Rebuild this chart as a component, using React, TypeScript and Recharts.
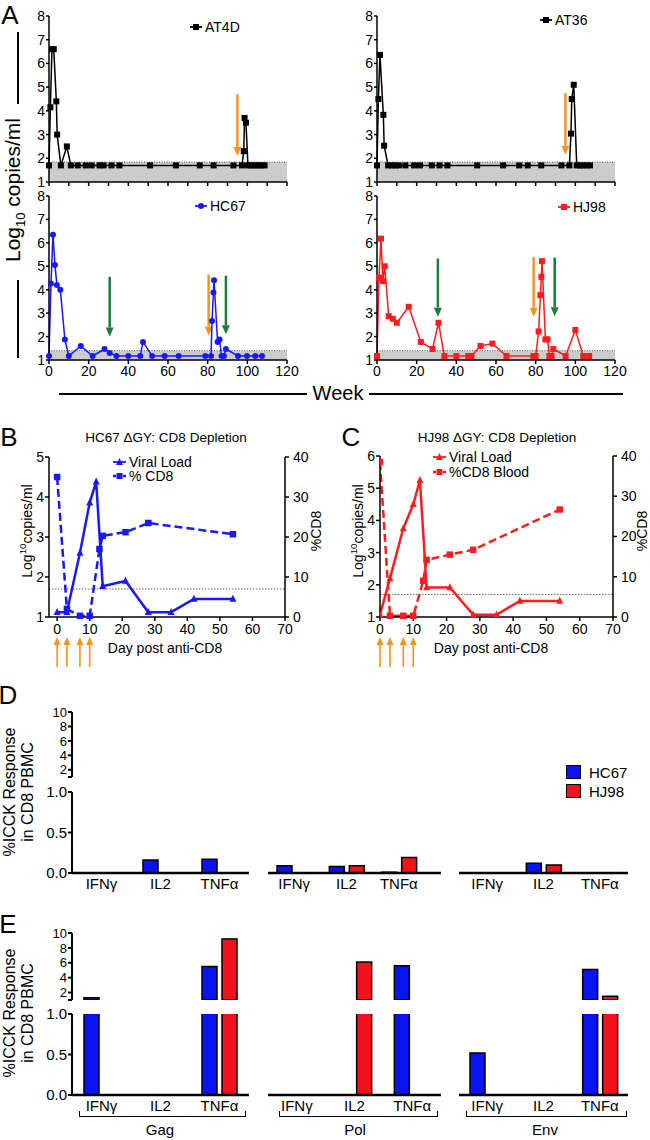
import React from 'react';
import {
  LineChart,
  Line,
  BarChart,
  Bar,
  XAxis,
  YAxis,
  ReferenceArea,
  ReferenceLine,
} from 'recharts';

const FONT = '"Liberation Sans", Arial, Helvetica, sans-serif';
const BLACK = '#000000';
const BLUE = '#1818ff';
const RED = '#ff1c1c';
const BAR_BLUE = '#0a14f0';
const BAR_RED = '#f2121a';
const ORANGE = '#f7941d';
const GREEN = '#1c7a3b';
const BAND = '#cccccc';

// ---- Panel A: log10 copies/ml by week ----
const weekTicks = [0, 20, 40, 60, 80, 100, 120];
const weekMinorTicks = [0, 10, 20, 30, 40, 50, 60, 70, 80, 90, 100, 110, 120];
const logTicks = [1, 2, 3, 4, 5, 6, 7, 8];

const at4dWeek = [0, 0.7, 1.5, 2.4, 3.7, 4.1, 6, 9, 11, 14.5, 18.5, 21.5, 25.5, 27.5, 31.5, 35.5, 51, 64, 76, 83, 93, 97.3, 98.2, 98.6, 99.3, 100.3, 102, 103.7, 105.4, 107, 108.7];
const at4dLog = [
  1.7, 4.15, 6.6, 6.6, 4.4, 3.0, 1.7, 2.5, 1.7,
  1.7, 1.7, 1.7, 1.7, 1.7, 1.7, 1.7, 1.7, 1.7, 1.7, 1.7, 1.7, 1.7,
  2.3, 3.7, 3.5,
  1.7, 1.7, 1.7, 1.7, 1.7, 1.7,
];

const at36Week = [0, 0.7, 1.5, 3.2, 3.6, 5.6, 7.6, 9.3, 11, 14.3, 18.7, 21.7, 27.6, 31.5, 35.5, 50.5, 63.6, 71.7, 76, 82.8, 93, 97, 97.8, 98.2, 99.2, 100.7, 102.4, 104, 105.7, 107.4];
const at36Log = [
  1.7, 4.5, 6.36, 3.83, 2.53,
  1.7, 1.7, 1.7, 1.7, 1.7, 1.7, 1.7, 1.7, 1.7, 1.7, 1.7, 1.7, 1.7, 1.7, 1.7, 1.7, 1.7,
  3.04, 4.5, 5.1,
  1.7, 1.7, 1.7, 1.7, 1.7,
];

const hc67Week = [0, 1, 2, 3, 4, 5.7, 8, 10, 16, 22, 28, 30.6, 34, 40, 46, 47.4, 52, 58.3, 65.4, 78.8, 81.7, 82.2, 82.9, 83.2, 85, 86, 87, 88.2, 89.2, 95.3, 99.8, 104, 107.4];
const hc67Log = [
  1.17, 4.27, 6.35, 5.05, 4.2, 4.0, 1.88, 1.17,
  1.6, 1.17, 1.47, 1.3, 1.17, 1.17, 1.17, 1.77, 1.17, 1.17, 1.17, 1.17, 1.17,
  2.66, 3.88, 4.4, 1.77, 1.88, 1.17, 1.17, 1.47,
  1.17, 1.17, 1.17, 1.17,
];

const hj98Week = [0, 1, 2, 3, 3.9, 5.9, 8, 10, 16, 22.1, 28, 31, 34, 40, 46, 47.6, 52.2, 58.2, 65.3, 78.9, 80, 81.5, 82.4, 82.9, 83.2, 84.9, 86, 86.9, 88, 88.9, 95.1, 100, 104, 107];
const hj98Log = [
  1.17, 4.52, 6.18, 4.37, 5.0, 2.87, 2.76, 2.59,
  3.27, 1.77, 1.47, 2.59, 1.17, 1.17, 1.17, 1.17, 1.6, 1.7, 1.17, 1.17, 1.17,
  2.22, 3.77, 4.55, 5.22, 1.88, 1.88, 1.17, 1.17, 1.47,
  1.17, 2.28, 1.17, 1.17,
];

// detection limits (top of grey band)
const atLimit = 1.84;
const hLimit = 1.4;

// arrows: week, start value, tip value
const at4dCd8Arrows = [{ x: 95, top: 4.7, tip: 2.1 }];
const at36Cd8Arrows = [{ x: 95, top: 4.75, tip: 2.15 }];
const hc67Cd8Arrows = [{ x: 80.5, top: 4.65, tip: 2.05 }];
const hc67OtherArrows = [{ x: 30.6, top: 4.55, tip: 2.0 }, { x: 89.2, top: 4.6, tip: 2.1 }];
const hj98Cd8Arrows = [{ x: 79, top: 5.4, tip: 2.85 }];
const hj98OtherArrows = [{ x: 30.7, top: 5.33, tip: 2.85 }, { x: 89.6, top: 5.37, tip: 2.87 }];

// ---- Panels B / C: CD8 depletion ----
const dayTicks = [0, 10, 20, 30, 40, 50, 60, 70];
const hc67LogTicks = [1, 2, 3, 4, 5];
const hj98LogTicks = [1, 2, 3, 4, 5, 6];
const pctTicks = [0, 10, 20, 30, 40];
const vlDays = [0, 3, 7, 10, 12, 14, 21, 28, 35, 42, 54];
const hc67Vl = [1.12, 1.12, 2.6, 3.86, 4.38, 1.77, 1.9, 1.12, 1.12, 1.45, 1.45];
const hj98Vl = [1.07, 2.2, 3.75, 4.5, 5.25, 1.92, 1.92, 1.07, 1.07, 1.5, 1.5];
const cd8Days = [0, 3, 7, 10, 13, 14, 21, 28, 54];
const hc67Cd8 = [35, 2, 0.3, 0.3, 17, 20.3, 21.2, 23.5, 20.7];
const hj98Cd8 = [38.5, 0.3, 0.3, 0.3, 9, 14.2, 15.5, 16.7, 26.7];
const antiCd8Days = [0, 3, 7, 10];
const vlLimit = 1.7;

// ---- Panels D / E: %ICCK response ----
const cytokines = ['IFNγ', 'IL2', 'TNFα'];
const upperTicks = [1, 2, 4, 6, 8, 10];
const lowerTicks = [0, 0.5, 1];

const dGagHC67 = [0, 0.16, 0.17];
const dGagHJ98 = [0, 0, 0];
const dPolHC67 = [0.09, 0.08, 0.01];
const dPolHJ98 = [0, 0.09, 0.19];
const dEnvHC67 = [0, 0.12, 0];
const dEnvHJ98 = [0, 0.1, 0];

const eGagHC67 = [1.3, 0, 5.5];
const eGagHJ98 = [0, 0, 9.2];
const ePolHC67 = [0, 0, 5.6];
const ePolHJ98 = [0, 6.1, 0];
const eEnvHC67 = [0.52, 0, 5.1];
const eEnvHJ98 = [0, 0, 1.5];

const TICK = { fontSize: 14, fill: BLACK, fontFamily: FONT };
const TICK15 = { fontSize: 15, fill: BLACK, fontFamily: FONT };
const TICK13 = { fontSize: 13, fill: BLACK, fontFamily: FONT };
const AXIS = { stroke: BLACK, strokeWidth: 1.5 };
const AXIS2 = { stroke: BLACK, strokeWidth: 2 };

const toRows = (xs: number[], vs: number[], key = 'w') => xs.map((x, i) => ({ [key]: x, v: vs[i] }));

// custom markers
const squareDot = (color: string, s: number) => (p: any) =>
  p.cx == null ? <g key={`sq-${p.index}`} /> : (
    <rect key={`sq-${p.index}`} x={p.cx - s / 2} y={p.cy - s / 2} width={s} height={s} fill={color} />
  );
const circleDot = (color: string, r: number) => (p: any) =>
  p.cx == null ? <g key={`ci-${p.index}`} /> : <circle key={`ci-${p.index}`} cx={p.cx} cy={p.cy} r={r} fill={color} />;
const triangleDot = (color: string, s: number) => (p: any) =>
  p.cx == null ? <g key={`tr-${p.index}`} /> : (
    <polygon
      key={`tr-${p.index}`}
      points={`${p.cx},${p.cy - s * 0.6} ${p.cx - s / 2},${p.cy + s * 0.4} ${p.cx + s / 2},${p.cy + s * 0.4}`}
      fill={color}
    />
  );

// upper (broken-axis) bars only show when the value passes the break at 1
const upperBar = (key: string, color: string) => (p: any) => {
  if (!p.payload || !(p.payload[key] > 1) || !(p.height > 0)) return <g />;
  return <rect x={p.x} y={p.y} width={p.width} height={p.height} fill={color} stroke={BLACK} strokeWidth={1.5} />;
};

// vertical arrow drawn from the first segment point to the second one (tip)
const arrowShape = (color: string, width: number, head: number, half: number) => (p: any) => {
  const { x1, y1, x2, y2 } = p;
  const dir = y2 > y1 ? 1 : -1;
  const base = y2 - dir * head;
  return (
    <g>
      <line x1={x1} y1={y1} x2={x2} y2={base} stroke={color} strokeWidth={width} />
      <polygon points={`${x2 - half},${base} ${x2 + half},${base} ${x2},${y2}`} fill={color} />
    </g>
  );
};

const Txt = ({ x, y, size, rotate, children, lh }: any) => (
  <div
    style={{
      position: 'absolute',
      left: x,
      top: y,
      transform: `translate(-50%, -50%)${rotate ? ' rotate(-90deg)' : ''}`,
      fontSize: size,
      lineHeight: lh || 1.15,
      whiteSpace: 'nowrap',
      textAlign: 'center',
    }}
  >
    {children}
  </div>
);

const Rule = ({ x, y, w, h }: any) => (
  <div style={{ position: 'absolute', left: x, top: y, width: w, height: h, background: BLACK }} />
);

const SeriesKey = ({ x, y, color, shape, dashed, label, size = 14, markW = 12 }: any) => (
  <div style={{ position: 'absolute', left: x, top: y - 9, height: 18, display: 'flex', alignItems: 'center', fontSize: size, lineHeight: '18px' }}>
    <svg width={markW} height={10} style={{ display: 'block' }}>
      <line x1={0} y1={5} x2={markW} y2={5} stroke={color} strokeWidth={dashed ? 2.5 : 1.8} strokeDasharray={dashed ? '3 2' : undefined} />
      {shape === 'square' && <rect x={markW / 2 - 3} y={2} width={6} height={6} fill={color} />}
      {shape === 'circle' && <circle cx={markW / 2} cy={5} r={3} fill={color} />}
      {shape === 'triangle' && <polygon points={`${markW / 2},1 ${markW / 2 - 3.5},8 ${markW / 2 + 3.5},8`} fill={color} />}
    </svg>
    <span style={{ marginLeft: 3 }}>{label}</span>
  </div>
);

type Arrow = { x: number; top: number; tip: number };

function WeekChart({ left, top, rows, limit, color, marker, cd8Arrows, otherArrows, showLabels }: {
  left: number; top: number; rows: any[]; limit: number; color: string; marker: any;
  cd8Arrows: Arrow[]; otherArrows: Arrow[]; showLabels: boolean;
}) {
  const height = showLabels ? 200 : 190;
  return (
    <div style={{ position: 'absolute', left, top }}>
      <LineChart width={289} height={height} data={rows} margin={{ top: 10, right: 16, left: 5, bottom: 2 }}>
        <ReferenceArea y1={1} y2={limit} fill={BAND} fillOpacity={1} stroke="none" />
        <ReferenceLine y={limit} stroke="#555" strokeWidth={1} strokeDasharray="1 1.5" />
        <XAxis
          type="number"
          dataKey="w"
          domain={[0, 120]}
          ticks={showLabels ? weekTicks : weekMinorTicks}
          interval={0}
          tickFormatter={showLabels ? (v: number) => String(v) : () => ''}
          height={showLabels ? 24 : 12}
          tickSize={4}
          tickMargin={2}
          axisLine={AXIS}
          tickLine={AXIS}
          tick={TICK}
        />
        <YAxis
          type="number"
          domain={[1, 8]}
          ticks={logTicks}
          interval={0}
          width={30}
          tickSize={3}
          tickMargin={1}
          axisLine={AXIS}
          tickLine={AXIS}
          tick={TICK}
        />
        {cd8Arrows.map((a, i) => (
          <ReferenceLine key={`o${i}`} segment={[{ x: a.x, y: a.top }, { x: a.x, y: a.tip }]} shape={arrowShape(ORANGE, 2.5, 9, 4)} />
        ))}
        {otherArrows.map((a, i) => (
          <ReferenceLine key={`g${i}`} segment={[{ x: a.x, y: a.top }, { x: a.x, y: a.tip }]} shape={arrowShape(GREEN, 2.5, 9, 4)} />
        ))}
        <Line type="linear" dataKey="v" stroke={color} strokeWidth={1.5} dot={marker} activeDot={false} isAnimationActive={false} />
      </LineChart>
    </div>
  );
}

function DepletionChart({ left, top, width, height, color, vl, cd8, logMax, logTicksList, xMin, arrowLow, arrowTip }: any) {
  return (
    <div style={{ position: 'absolute', left, top }}>
      <LineChart width={width} height={height} margin={{ top: 10, right: 5, left: 5, bottom: 35 }}>
        <XAxis
          type="number"
          dataKey="d"
          domain={[xMin, 70]}
          allowDataOverflow
          ticks={dayTicks}
          interval={0}
          height={20}
          tickSize={4}
          tickMargin={3}
          axisLine={AXIS}
          tickLine={AXIS}
          tick={TICK}
        />
        <YAxis yAxisId="log" type="number" domain={[1, logMax]} ticks={logTicksList} interval={0} width={30} tickSize={4} tickMargin={1} axisLine={AXIS} tickLine={AXIS} tick={TICK} />
        <YAxis yAxisId="pct" orientation="right" type="number" domain={[0, 40]} ticks={pctTicks} interval={0} width={35} tickSize={4} tickMargin={4} axisLine={AXIS} tickLine={AXIS} tick={TICK} />
        <ReferenceLine yAxisId="log" y={vlLimit} stroke="#444" strokeWidth={0.8} strokeDasharray="1.5 1.5" />
        {antiCd8Days.map((d) => (
          <ReferenceLine
            key={`a${d}`}
            yAxisId="log"
            ifOverflow="visible"
            segment={[{ x: d, y: arrowLow }, { x: d, y: arrowTip }]}
            shape={arrowShape(ORANGE, 1.6, 8, 3.5)}
          />
        ))}
        <Line yAxisId="pct" data={cd8} dataKey="v" type="linear" stroke={color} strokeWidth={2.5} strokeDasharray="8 4" dot={squareDot(color, 6.5)} activeDot={false} isAnimationActive={false} />
        <Line yAxisId="log" data={vl} dataKey="v" type="linear" stroke={color} strokeWidth={2.5} dot={triangleDot(color, 7)} activeDot={false} isAnimationActive={false} />
      </LineChart>
    </div>
  );
}

function CytokineGroup({ left, plotWidth, upperTop, upperHeight, lowerTop, hc, hj, withAxis, padRight = 0 }: any) {
  const rows = cytokines.map((c, i) => ({ c, hc: hc[i], hj: hj[i] }));
  const yW = withAxis ? 40 : 0;
  const chartLeft = left - yW - 2;
  const w = plotWidth + yW + 4;
  const lowerHeight = 81;
  return (
    <>
      <div style={{ position: 'absolute', left: chartLeft, top: upperTop - 8 }}>
        <BarChart width={w} height={upperHeight + 10} data={rows} barGap={5} margin={{ top: 8, right: 2, left: 2, bottom: 2 }}>
          <XAxis dataKey="c" hide padding={{ left: 0, right: padRight }} />
          <YAxis
            type="number"
            domain={[1, 10]}
            allowDataOverflow
            ticks={upperTicks}
            interval={0}
            hide={!withAxis}
            width={yW}
            tickFormatter={(v: number) => (v === 1 ? '' : String(v))}
            tickSize={4}
            tickMargin={1}
            axisLine={AXIS2}
            tickLine={AXIS2}
            tick={TICK13}
          />
          <Bar dataKey="hc" fill={BAR_BLUE} barSize={15} shape={upperBar('hc', BAR_BLUE)} isAnimationActive={false} />
          <Bar dataKey="hj" fill={BAR_RED} barSize={15} shape={upperBar('hj', BAR_RED)} isAnimationActive={false} />
        </BarChart>
      </div>
      <div style={{ position: 'absolute', left: chartLeft, top: lowerTop - 8 }}>
        <BarChart width={w} height={lowerHeight + 8 + 22 + 2} data={rows} barGap={5} margin={{ top: 8, right: 2, left: 2, bottom: 2 }}>
          <XAxis
            dataKey="c"
            interval={0}
            height={22}
            padding={{ left: 0, right: padRight }}
            tickLine={false}
            tickSize={0}
            tickMargin={5}
            axisLine={{ stroke: BLACK, strokeWidth: 2.5 }}
            tick={TICK15}
          />
          <YAxis
            type="number"
            domain={[0, 1]}
            allowDataOverflow
            ticks={lowerTicks}
            interval={0}
            hide={!withAxis}
            width={yW}
            tickFormatter={(v: number) => v.toFixed(1)}
            tickSize={4}
            tickMargin={1}
            axisLine={AXIS2}
            tickLine={AXIS2}
            tick={TICK15}
          />
          <Bar dataKey="hc" fill={BAR_BLUE} stroke={BLACK} strokeWidth={1.5} barSize={15} isAnimationActive={false} />
          <Bar dataKey="hj" fill={BAR_RED} stroke={BLACK} strokeWidth={1.5} barSize={15} isAnimationActive={false} />
        </BarChart>
      </div>
    </>
  );
}

function CytokinePanel({ upperTop, upperHeight, lowerTop, gag, pol, env, polPad }: any) {
  return (
    <>
      <CytokineGroup left={72} plotWidth={177} upperTop={upperTop} upperHeight={upperHeight} lowerTop={lowerTop} hc={gag[0]} hj={gag[1]} withAxis />
      <CytokineGroup left={268} plotWidth={173} upperTop={upperTop} upperHeight={upperHeight} lowerTop={lowerTop} hc={pol[0]} hj={pol[1]} padRight={polPad} />
      <CytokineGroup left={459} plotWidth={169} upperTop={upperTop} upperHeight={upperHeight} lowerTop={lowerTop} hc={env[0]} hj={env[1]} />
    </>
  );
}

const Bracket = ({ x, w, label, cx }: any) => (
  <>
    <div style={{ position: 'absolute', left: x, top: 1111, width: w, height: 5, borderLeft: '1.5px solid #000', borderRight: '1.5px solid #000', borderBottom: '1.5px solid #000' }} />
    <Txt x={cx} y={1130} size={15}>{label}</Txt>
  </>
);

const KeySwatch = ({ y, color, label }: any) => (
  <div style={{ position: 'absolute', left: 566, top: y - 9, height: 18, display: 'flex', alignItems: 'center', fontSize: 15 }}>
    <div style={{ width: 13, height: 12, background: color, border: '1.5px solid #000' }} />
    <span style={{ marginLeft: 8 }}>{label}</span>
  </div>
);

export default function App() {
  return (
    <div style={{ position: 'absolute', left: 0, top: 0, width: 650, height: 1140, background: '#fff', fontFamily: FONT, color: BLACK, overflow: 'hidden' }}>
      {/* Panel A */}
      <Txt x={10} y={16} size={26}>A</Txt>
      <WeekChart left={14} top={6} rows={toRows(at4dWeek, at4dLog)} limit={atLimit} color={BLACK} marker={squareDot(BLACK, 6)} cd8Arrows={at4dCd8Arrows} otherArrows={[]} showLabels={false} />
      <WeekChart left={342} top={6} rows={toRows(at36Week, at36Log)} limit={atLimit} color={BLACK} marker={squareDot(BLACK, 6)} cd8Arrows={at36Cd8Arrows} otherArrows={[]} showLabels={false} />
      <WeekChart left={14} top={186} rows={toRows(hc67Week, hc67Log)} limit={hLimit} color={BLUE} marker={circleDot(BLUE, 3)} cd8Arrows={hc67Cd8Arrows} otherArrows={hc67OtherArrows} showLabels />
      <WeekChart left={342} top={186} rows={toRows(hj98Week, hj98Log)} limit={hLimit} color={RED} marker={squareDot(RED, 6)} cd8Arrows={hj98Cd8Arrows} otherArrows={hj98OtherArrows} showLabels />
      <SeriesKey x={190} y={27} color={BLACK} shape="square" label="AT4D" />
      <SeriesKey x={540} y={20} color={BLACK} shape="square" label="AT36" />
      <SeriesKey x={195} y={206} color={BLUE} shape="circle" label="HC67" />
      <SeriesKey x={558} y={207} color={RED} shape="square" label="HJ98" />
      <Txt x={15} y={190} size={21} rotate>
        Log<span style={{ fontSize: '0.62em', verticalAlign: 'sub' }}>10</span> copies/ml
      </Txt>
      <Rule x={17} y={32} w={1.5} h={72} />
      <Rule x={17} y={280} w={1.5} h={78} />
      <Txt x={338} y={393} size={20}>Week</Txt>
      <Rule x={59} y={393} w={248} h={1.5} />
      <Rule x={369} y={393} w={254} h={1.5} />

      {/* Panel B */}
      <Txt x={9} y={438} size={26}>B</Txt>
      <Txt x={166} y={438} size={13.5}>HC67 ΔGY: CD8 Depletion</Txt>
      <DepletionChart left={14} top={447} width={311} height={225} color={BLUE} vl={toRows(vlDays, hc67Vl, 'd')} cd8={toRows(cd8Days, hc67Cd8, 'd')} logMax={5} logTicksList={hc67LogTicks} xMin={-2.5} arrowLow={-0.25} arrowTip={0.5} />
      <SeriesKey x={113} y={462} color={BLUE} shape="triangle" label="Viral Load" markW={13} />
      <SeriesKey x={113} y={476} color={BLUE} shape="square" dashed label="% CD8" markW={13} />
      <Txt x={26} y={531} size={14} rotate>
        Log<span style={{ fontSize: '0.7em', verticalAlign: 'super' }}>10</span>copies/ml
      </Txt>
      <Txt x={316} y={531} size={14} rotate>%CD8</Txt>
      <Txt x={165} y={648} size={14}>Day post anti-CD8</Txt>

      {/* Panel C */}
      <Txt x={351} y={438} size={26}>C</Txt>
      <Txt x={497} y={438} size={13.5}>HJ98 ΔGY: CD8 Depletion</Txt>
      <DepletionChart left={345} top={446} width={308} height={226} color={RED} vl={toRows(vlDays, hj98Vl, 'd')} cd8={toRows(cd8Days, hj98Cd8, 'd')} logMax={6} logTicksList={hj98LogTicks} xMin={0} arrowLow={-0.55} arrowTip={0.38} />
      <SeriesKey x={433} y={457} color={RED} shape="triangle" label="Viral Load" markW={13} />
      <SeriesKey x={433} y={472} color={RED} shape="square" dashed label="%CD8 Blood" markW={13} />
      <Txt x={357} y={531} size={14} rotate>
        Log<span style={{ fontSize: '0.7em', verticalAlign: 'super' }}>10</span>copies/ml
      </Txt>
      <Txt x={642} y={531} size={14} rotate>%CD8</Txt>
      <Txt x={491} y={648} size={14}>Day post anti-CD8</Txt>

      {/* Panel D */}
      <Txt x={8} y={696} size={26}>D</Txt>
      <Txt x={19} y={792} size={16} rotate lh="18px">
        %ICCK Response<br />in CD8 PBMC
      </Txt>
      <CytokinePanel upperTop={712} upperHeight={65} lowerTop={792} gag={[dGagHC67, dGagHJ98]} pol={[dPolHC67, dPolHJ98]} env={[dEnvHC67, dEnvHJ98]} polPad={16} />
      <KeySwatch y={772} color={BAR_BLUE} label="HC67" />
      <KeySwatch y={791} color={BAR_RED} label="HJ98" />

      {/* Panel E */}
      <Txt x={8} y={925} size={26}>E</Txt>
      <Txt x={19} y={1013} size={16} rotate lh="18px">
        %ICCK Response<br />in CD8 PBMC
      </Txt>
      <CytokinePanel upperTop={933} upperHeight={67} lowerTop={1014} gag={[eGagHC67, eGagHJ98]} pol={[ePolHC67, ePolHJ98]} env={[eEnvHC67, eEnvHJ98]} polPad={0} />
      <Bracket x={79} w={165} label="Gag" cx={160} />
      <Bracket x={279} w={157} label="Pol" cx={355} />
      <Bracket x={466} w={159} label="Env" cx={545} />
    </div>
  );
}
